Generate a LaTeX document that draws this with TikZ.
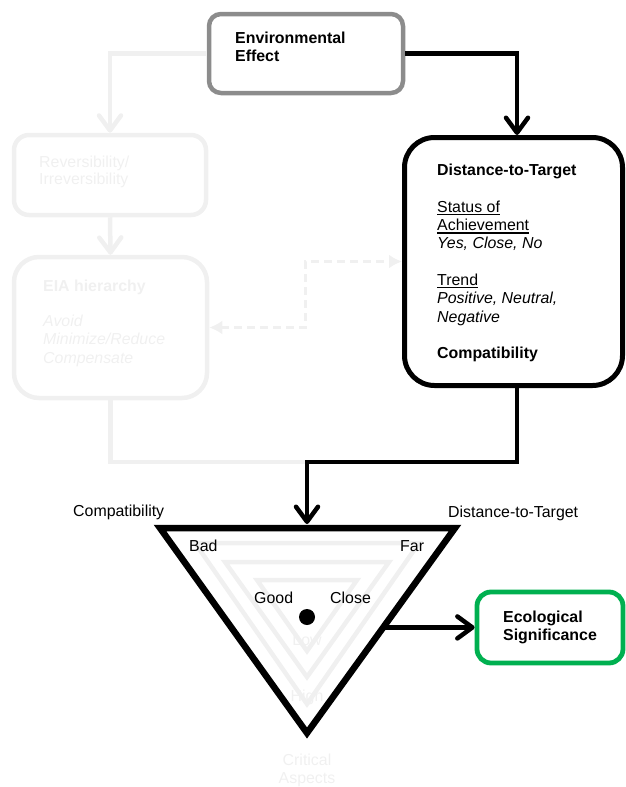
\documentclass[tikz,border=0pt]{standalone}
\usepackage{fontspec}
\setmainfont{Liberation Sans}
\usetikzlibrary{arrows.meta,calc}
\definecolor{faint}{RGB}{240,240,240}
\definecolor{envgray}{RGB}{140,140,140}
\definecolor{ecogreen}{RGB}{0,176,80}
\newcommand{\ulbox}[1]{\setbox0=\hbox{#1}\rlap{\rule[-3pt]{\wd0}{1.3pt}}\box0}
\begin{document}
\begin{tikzpicture}[x=1pt,y=-1pt,
  every node/.style={font=\fontsize{15.9}{18}\selectfont},
  txt/.style={anchor=base west, inner sep=0pt},
  ctxt/.style={anchor=base, inner sep=0pt, text=faint},
  boxshape/.style={draw, rectangle, inner sep=0pt},
  envbox/.style={boxshape, draw=envgray, line width=4.5pt, rounded corners=12pt, minimum width=194pt, minimum height=79pt},
  distbox/.style={boxshape, draw=black, line width=5pt, rounded corners=30pt, minimum width=218pt, minimum height=248pt},
  ecobox/.style={boxshape, draw=ecogreen, line width=4.8pt, rounded corners=14pt, minimum width=146pt, minimum height=71pt},
  revbox/.style={boxshape, draw=faint, line width=4.5pt, rounded corners=15pt, minimum width=192pt, minimum height=80pt},
  eiabox/.style={boxshape, draw=faint, line width=4.5pt, rounded corners=25pt, minimum width=193pt, minimum height=141pt},
  barbtip/.tip={Straight Barb[length=15pt,width=22pt,round]},
  conn/.style={line width=4.5pt, draw=black, -barbtip},
  fconn/.style={line width=4.5pt, draw=faint, -barbtip},
  fline/.style={line width=4.5pt, draw=faint},
  fdash/.style={line width=3pt, draw=faint, dash pattern=on 8pt off 5pt, {Latex[length=13pt,width=14pt]}-{Latex[length=13pt,width=14pt]}},
  tri/.style={line width=6.5pt, draw=black, line join=miter},
  ftri/.style={line width=4.5pt, draw=faint, line join=miter}
]
\useasboundingbox (0,0) rectangle (626,787);

% boxes
\node[envbox] (env) at (306,53.5) {};
\node[revbox] (rev) at (110,175) {};
\node[eiabox] (eia) at (110.5,327.5) {};
\node[distbox] (dist) at (513.5,261.5) {};
\node[ecobox] (eco) at (550,627.5) {};

% triangle coordinates
\coordinate (tl) at (160,528);
\coordinate (tr) at (455,528);
\coordinate (tb) at (307,733);
\coordinate (jn) at (307,462);
\coordinate (ttop) at (307,524);
\coordinate (dk) at (305,300);
\coordinate (trp) at ($(tr)!0.485!(tb)$);

% faint connectors
\draw[fconn] (env.west) -| (rev.north);
\draw[fconn] (rev.south) -- (eia.north);
\draw[fline] (eia.south) |- (jn);
\draw[fdash] (eia.east) -| (dk) |- (dist.west);

% faint triangles
\draw[ftri] (195,543) -- (419,543) -- (307,704) -- cycle;
\draw[ftri] (225,562) -- (389,562) -- (307,677) -- cycle;
\draw[ftri] (257,580) -- (357,580) -- (307,651) -- cycle;

% black connectors
\draw[conn] (env.east) -| ([xshift=3.5pt]dist.north);
\draw[conn] ([xshift=3.5pt]dist.south) |- (jn) -- (ttop);
\draw[conn] (trp) -- (trp -| eco.west);

% triangle
\draw[tri] (tl) -- (tr) -- (tb) -- cycle;
\fill (307,617) circle (8pt);

% texts
\node[txt] (t1) at (235,43) {\bfseries Environmental};
\node[txt] (t2) at (235,61.5) {\bfseries Effect};

\node[txt, text=faint] (t3) at (39,167) {Reversibility/};
\node[txt, text=faint] (t4) at (39,184.5) {Irreversibility};

\node[txt, text=faint] (t5) at (43,291) {\bfseries EIA hierarchy};
\node[txt, text=faint] (t6) at (43,326.5) {\itshape Avoid};
\node[txt, text=faint] (t7) at (43,344.8) {\itshape Minimize/Reduce};
\node[txt, text=faint] (t8) at (43,363) {\itshape Compensate};

\node[txt] (d1) at (437,175.5) {\bfseries Distance-to-Target};
\node[txt] (d2) at (437,212.2) {\ulbox{Status of}};
\node[txt] (d3) at (437,230.5) {\ulbox{Achievement}};
\node[txt] (d4) at (437,248.8) {\itshape Yes, Close, No};
\node[txt] (d5) at (437,285.4) {\ulbox{Trend}};
\node[txt] (d6) at (437,303.7) {\itshape Positive, Neutral,};
\node[txt] (d7) at (437,322) {\itshape Negative};
\node[txt] (d8) at (437,358.7) {\bfseries Compatibility};

\node[txt] (e1) at (503,622) {\bfseries Ecological};
\node[txt] (e2) at (503,640.5) {\bfseries Significance};

\node[txt] (c1) at (73,516.5) {Compatibility};
\node[txt] (c2) at (448,517.5) {Distance-to-Target};
\node[txt] (c3) at (189,551) {Bad};
\node[txt] (c4) at (400,551) {Far};
\node[txt] (c5) at (254,603) {Good};
\node[txt] (c6) at (330,603) {Close};

\node[ctxt] (f1) at (307,645) {Low};
\node[ctxt] (f2) at (307,701) {High};
\node[ctxt] (f3) at (307,765.5) {Critical};
\node[ctxt] (f4) at (307,783) {Aspects};
\end{tikzpicture}
\end{document}
